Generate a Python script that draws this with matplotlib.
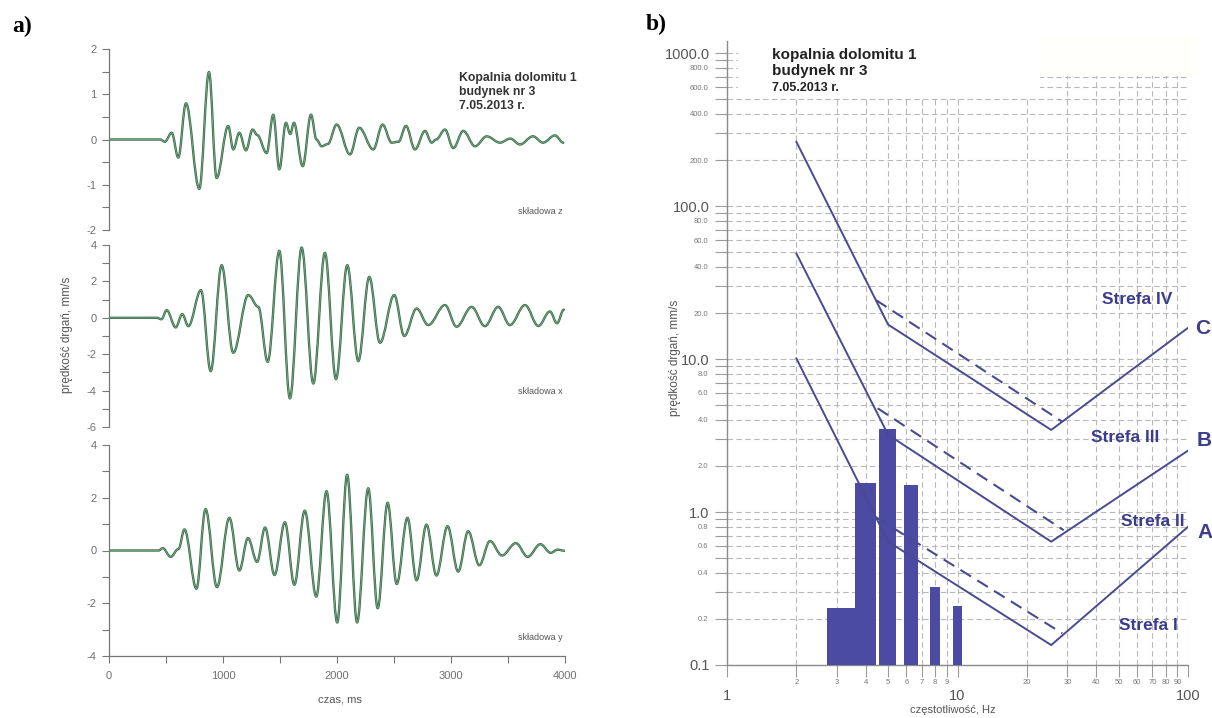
import matplotlib
matplotlib.use("Agg")
import matplotlib.pyplot as plt
from matplotlib.path import Path
from matplotlib.patches import PathPatch, Rectangle
from matplotlib.ticker import FixedLocator, FixedFormatter

plt.rcParams['font.family'] = ['Liberation Sans', 'DejaVu Sans']

# ---------------- data: panel a) velocity records (ms, mm/s) ----------------
z_time = [0, 450, 490, 550, 608, 675, 792, 877, 944, 1046, 1090, 1143, 1201, 1260, 1300,
          1383, 1441, 1494, 1552, 1590, 1622, 1699, 1772, 1820, 1865, 1920, 1997, 2114,
          2195, 2318, 2400, 2479, 2540, 2605, 2684, 2772, 2830, 2870, 2947, 3020, 3108,
          3211, 3313, 3430, 3520, 3605, 3719, 3807, 3912, 3985]
z_vel = [0, 0, -0.05, 0.15, -0.4, 0.8, -1.09, 1.49, -0.85, 0.3, -0.22, 0.15, -0.24, 0.22, 0.1,
         -0.3, 0.55, -0.66, 0.37, 0.12, 0.37, -0.59, 0.55, 0.0, -0.15, -0.1, 0.33, -0.33,
         0.26, -0.22, 0.33, -0.07, -0.05, 0.3, -0.22, 0.19, -0.07, 0.0, 0.22, -0.19, 0.19,
         -0.15, 0.07, -0.07, 0.02, -0.11, 0.07, -0.07, 0.09, -0.07]

x_time = [0, 418, 460, 506, 585, 643, 696, 807, 892, 988, 1090, 1222, 1310, 1392, 1494,
          1587, 1690, 1792, 1894, 1991, 2090, 2187, 2283, 2377, 2502, 2590, 2699, 2800,
          2947, 3049, 3181, 3297, 3414, 3517, 3649, 3766, 3868, 3930, 3990]
x_vel = [0, 0, -0.08, 0.42, -0.53, 0.2, -0.46, 1.52, -2.93, 2.89, -1.92, 1.25, 0.6, -2.42, 3.68,
         -4.43, 3.86, -3.61, 3.57, -3.37, 2.89, -2.38, 2.25, -1.37, 1.25, -1.0, 0.51, -0.4,
         0.7, -0.49, 0.6, -0.46, 0.6, -0.4, 0.7, -0.45, 0.35, -0.3, 0.45]

y_time = [0, 436, 471, 541, 610, 662, 767, 847, 947, 1056, 1143, 1219, 1299, 1369, 1452,
          1543, 1626, 1717, 1818, 1908, 2002, 2089, 2176, 2274, 2357, 2444, 2524, 2618,
          2698, 2785, 2872, 2970, 3063, 3151, 3248, 3342, 3447, 3569, 3673, 3784, 3875,
          3934, 4000]
y_vel = [0, 0, 0.09, -0.24, 0.06, 0.8, -1.45, 1.57, -1.39, 1.24, -0.76, 0.47, -0.43, 0.87, -0.93,
         1.07, -1.30, 1.51, -1.75, 2.25, -2.73, 2.87, -2.73, 2.36, -2.19, 1.81, -1.27, 1.24,
         -1.13, 0.98, -0.95, 0.92, -0.8, 0.73, -0.56, 0.36, -0.19, 0.28, -0.24, 0.24, -0.09,
         0.03, -0.01]

components = ["składowa z", "składowa x", "składowa y"]
panel_ylims = [(-2, 2), (-6, 4), (-4, 4)]
panel_yticklabels = [[-2, -1, 0, 1, 2], [-6, -4, -2, 0, 2, 4], [-4, -2, 0, 2, 4]]
time_ticks = [0, 1000, 2000, 3000, 4000]

# ---------------- data: panel b) spectrum and SWD I limit lines ----------------
band_freq = [3.15, 4, 5, 6.3, 8, 10]
band_vel = [0.235, 1.54, 3.47, 1.50, 0.322, 0.244]

limit_A_f = [2, 5, 25.5, 100]
limit_A_v = [10.1, 0.64, 0.135, 0.80]
limit_B_f = [2, 5, 25.5, 100]
limit_B_v = [49, 3.2, 0.64, 2.52]
limit_C_f = [2, 5, 25.5, 100]
limit_C_v = [263, 16.8, 3.44, 16.0]
dash_A_f = [4.45, 28.5]
dash_A_v = [0.92, 0.161]
dash_B_f = [4.5, 28.9]
dash_B_v = [4.77, 0.76]
dash_C_f = [4.43, 28.5]
dash_C_v = [24.3, 3.89]

zones = ["Strefa IV", "Strefa III", "Strefa II", "Strefa I"]
zone_letters = ["C", "B", "A"]

W, H = 1212, 718
fig = plt.figure(figsize=(W / 100, H / 100), dpi=100)


def fx(px):
    return px / W


def fy(py):
    return 1 - py / H


def axes_px(x0, x1, y0, y1):
    return [fx(x0), fy(y1), (x1 - x0) / W, (y1 - y0) / H]


def smooth_path(t, v):
    verts = [(t[0], v[0])]
    codes = [Path.MOVETO]
    for i in range(1, len(t)):
        dt = t[i] - t[i - 1]
        verts += [(t[i - 1] + 0.36 * dt, v[i - 1]), (t[i] - 0.36 * dt, v[i]), (t[i], v[i])]
        codes += [Path.CURVE4] * 3
    return Path(verts, codes)


TICK_GREY = '#707070'
wave_data = [(z_time, z_vel), (x_time, x_vel), (y_time, y_vel)]
panel_px = [(49, 230), (245, 427), (445, 656)]
label_py = [212, 392, 637]

for i, ((t, v), (py0, py1)) in enumerate(zip(wave_data, panel_px)):
    ax = fig.add_axes(axes_px(109, 565, py0, py1))
    ax.set_xlim(0, 4000)
    ax.set_ylim(*panel_ylims[i])
    ax.add_patch(PathPatch(smooth_path(t, v), fill=False, edgecolor='#45624f', lw=1.7,
                           capstyle='round', joinstyle='round'))
    ax.add_patch(PathPatch(smooth_path(t, v), fill=False, edgecolor='#62b877', lw=0.6))
    for s in ['top', 'right']:
        ax.spines[s].set_visible(False)
    ax.spines['left'].set_color('#777777')
    ax.spines['left'].set_linewidth(0.9)
    lo, hi = panel_ylims[i]
    ax.set_yticks(panel_yticklabels[i])
    ax.set_yticklabels([str(k) for k in panel_yticklabels[i]])
    step = 0.5 if i == 0 else 1
    minor = []
    val = lo
    while val <= hi + 1e-9:
        minor.append(val)
        val += step
    ax.yaxis.set_minor_locator(FixedLocator(minor))
    ax.tick_params(axis='y', which='both', direction='out', length=5, width=0.8,
                   color='#777777', labelsize=8, labelcolor=TICK_GREY, pad=4)
    if i < 2:
        ax.spines['bottom'].set_visible(False)
        ax.set_xticks([])
    else:
        ax.spines['bottom'].set_color('#777777')
        ax.spines['bottom'].set_linewidth(0.9)
        ax.set_xticks(time_ticks)
        ax.set_xticklabels([str(k) for k in time_ticks])
        ax.xaxis.set_minor_locator(FixedLocator([500, 1500, 2500, 3500]))
        ax.tick_params(axis='x', which='both', direction='out', length=5, width=0.8,
                       color='#777777', labelsize=8, labelcolor=TICK_GREY, pad=6)
    ax.patch.set_alpha(0)
    fig.text(fx(540), fy(label_py[i]), components[i], fontsize=6.5, color='#555555',
             ha='center', va='center')

fig.text(fx(340), fy(700), "czas, ms", fontsize=8, color='#555555', ha='center', va='center')
fig.text(fx(67), fy(335), "prędkość drgań, mm/s", fontsize=8.5, color='#555555',
         ha='center', va='center', rotation=90)
for k, line in enumerate(["Kopalnia dolomitu 1", "budynek nr 3", "7.05.2013 r."]):
    fig.text(fx(459), fy(78 + 14 * k), line, fontsize=8.8, fontweight='bold',
             color='#333333', ha='left', va='center')
fig.text(fx(12), fy(26), "a)", fontsize=17, fontweight='bold', family='Liberation Serif',
         ha='left', va='center')
fig.text(fx(646), fy(24), "b)", fontsize=17, fontweight='bold', family='Liberation Serif',
         ha='left', va='center')

# ---------------- panel b ----------------
ax2 = fig.add_axes(axes_px(727, 1188, 41, 665))
ax2.set_xscale('log')
ax2.set_yscale('log')
ax2.set_xlim(1, 100)
ax2.set_ylim(0.1, 1200)

BLUE_LINE = '#4a4a92'
BAR_BLUE = '#4b4ba3'
TEXT_BLUE = '#3c3c8c'

ax2.bar(band_freq, band_vel, width=0.85, color=BAR_BLUE, edgecolor='none', zorder=3)
ax2.set_ylim(0.1, 1200)
line_handle, = ax2.plot(limit_C_f, limit_C_v, color=BLUE_LINE, lw=1.4, zorder=4)
ax2.plot(limit_B_f, limit_B_v, color=BLUE_LINE, lw=1.4, zorder=4)
ax2.plot(limit_A_f, limit_A_v, color=BLUE_LINE, lw=1.4, zorder=4)
for fs, vs in [(dash_A_f, dash_A_v), (dash_B_f, dash_B_v), (dash_C_f, dash_C_v)]:
    ax2.plot(fs, vs, color=BLUE_LINE, lw=1.5, ls=(0, (6, 3.5)), zorder=4)

xmajor = [1, 10, 100]
xminor = [2, 3, 4, 5, 6, 7, 8, 9, 20, 30, 40, 50, 60, 70, 80, 90]
ax2.xaxis.set_major_locator(FixedLocator(xmajor))
ax2.xaxis.set_major_formatter(FixedFormatter(['1', '10', '100']))
ax2.xaxis.set_minor_locator(FixedLocator(xminor))
ax2.xaxis.set_minor_formatter(FixedFormatter([str(k) for k in xminor]))

ymajor = [0.1, 1, 10, 100, 1000]
yminor = []
yminor_labels = []
for dec in [0.1, 1, 10, 100]:
    for m in range(2, 10):
        yminor.append(m * dec)
        yminor_labels.append(f"{m * dec:.1f}" if m % 2 == 0 else "")
ax2.yaxis.set_major_locator(FixedLocator(ymajor))
ax2.yaxis.set_major_formatter(FixedFormatter(['0.1', '1.0', '10.0', '100.0', '1000.0']))
ax2.yaxis.set_minor_locator(FixedLocator(yminor))
ax2.yaxis.set_minor_formatter(FixedFormatter(yminor_labels))

ax2.grid(which='both', ls=(0, (5, 3)), color='#b8b8b8', lw=0.8, zorder=0)
ax2.set_axisbelow(True)
for s in ['top', 'right']:
    ax2.spines[s].set_visible(False)
for s in ['left', 'bottom']:
    ax2.spines[s].set_color('#8a8a8a')
    ax2.spines[s].set_linewidth(1.0)

ax2.tick_params(which='both', direction='out', length=8.5, width=0.8, color='#9a9a9a')
ax2.tick_params(axis='x', which='major', labelsize=10.5, labelcolor='#555555', pad=9)
ax2.tick_params(axis='x', which='minor', labelsize=5.5, labelcolor='#777777', pad=1.5)
ax2.tick_params(axis='y', which='major', labelsize=10.5, labelcolor='#555555', pad=4)
ax2.tick_params(axis='y', which='minor', labelsize=5.5, labelcolor='#777777', pad=5)

fig.text(fx(953), fy(710), "częstotliwość, Hz", fontsize=8, color='#555555',
         ha='center', va='center')
fig.text(fx(675), fy(358), "prędkość drgań, mm/s", fontsize=8.5, color='#555555',
         ha='center', va='center', rotation=90)

# white title area and legend area
fig.patches.append(Rectangle((fx(738), fy(97)), (1040 - 738) / W, (97 - 38) / H,
                             transform=fig.transFigure, facecolor='white', edgecolor='none',
                             zorder=1))
fig.patches.append(Rectangle((fx(1040), fy(76)), (1195 - 1040) / W, (76 - 36) / H,
                             transform=fig.transFigure, facecolor='#fffffb', edgecolor='none',
                             zorder=1))
for k, (line, fs) in enumerate(zip(["kopalnia dolomitu 1", "budynek nr 3", "7.05.2013 r."],
                                   [11, 11, 9])):
    fig.text(fx(772), fy(55 + 16.5 * k), line, fontsize=fs, fontweight='bold',
             color='#222222', ha='left', va='center', zorder=4)

leg = ax2.legend([line_handle], ["SWD I"], loc='center left',
                 bbox_to_anchor=(fx(1058), fy(65)), bbox_transform=fig.transFigure,
                 frameon=False, handlelength=7.5, handletextpad=0.4, fontsize=7.5,
                 borderpad=0, borderaxespad=0)
for txt in leg.get_texts():
    txt.set_color(TEXT_BLUE)
    txt.set_fontweight('bold')

zone_pos = [(1137, 300), (1125, 437), (1153, 522), (1148, 625)]
for name, (px, py) in zip(zones, zone_pos):
    fig.text(fx(px), fy(py), name, fontsize=12.5, fontweight='bold', color=TEXT_BLUE,
             ha='center', va='center', zorder=5)
letter_pos = [(1203, 328), (1204, 440), (1205, 533)]
for name, (px, py) in zip(zone_letters, letter_pos):
    fig.text(fx(px), fy(py), name, fontsize=15, fontweight='bold', color=TEXT_BLUE,
             ha='center', va='center', zorder=5)

fig.savefig("out.png", dpi=100, facecolor='white')
